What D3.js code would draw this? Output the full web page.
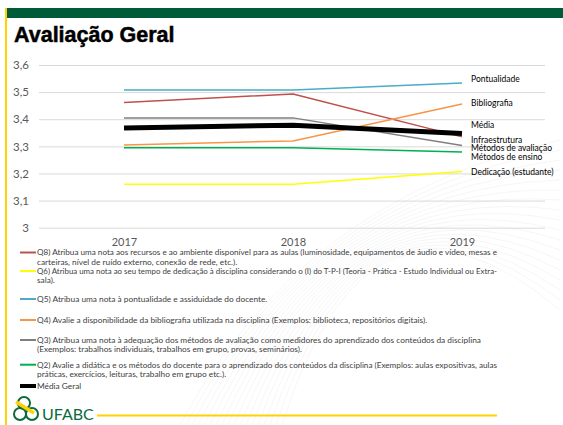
<!DOCTYPE html>
<html><head><meta charset="utf-8">
<script src="https://cdn.jsdelivr.net/npm/d3@7"></script>
<style>body{margin:0;background:#fff}svg{display:block}</style>
</head><body><svg id="c" width="563" height="425"></svg>
<script>
const years = ["2017","2018","2019"];
const yTicks = [3,3.1,3.2,3.3,3.4,3.5,3.6];
const infra = [3.462,3.493,3.335];
const dedic = [3.160,3.160,3.207];
const pontual = [3.508,3.508,3.534];
const biblio = [3.305,3.320,3.456];
const metAval = [3.405,3.405,3.303];
const metEns = [3.295,3.295,3.279];
const media = [3.368,3.378,3.347];
const seriesNames = ["Infraestrutura","Dedicação (estudante)","Pontualidade","Bibliografia","Métodos de avaliação","Métodos de ensino","Média"];
const legendLines = [
 ["Q8) Atribua uma nota aos recursos e ao ambiente disponível para as aulas (luminosidade, equipamentos de áudio e vídeo, mesas e","carteiras, nível de ruído externo, conexão de rede, etc.)."],
 ["Q6) Atribua uma nota ao seu tempo de dedicação à disciplina considerando o (I) do T-P-I (Teoria - Prática - Estudo Individual ou Extra-","sala)."],
 ["Q5) Atribua uma nota à pontualidade e assiduidade do docente."],
 ["Q4) Avalie a disponibilidade da bibliografia utilizada na disciplina (Exemplos: biblioteca, repositórios digitais)."],
 ["Q3) Atribua uma nota à adequação dos métodos de avaliação como medidores do aprendizado dos conteúdos da disciplina","(Exemplos: trabalhos individuais, trabalhos em grupo, provas, seminários)."],
 ["Q2) Avalie a didática e os métodos do docente para o aprendizado dos conteúdos da disciplina (Exemplos: aulas expositivas, aulas","práticas, exercícios, leituras, trabalho em grupo etc.)."],
 ["Média Geral"]
];

const seriesVals = [infra,dedic,pontual,biblio,metAval,metEns,media];
const colors = ["#C0504D","#FFFF00","#4BACC6","#F79646","#7F7F7F","#00B050","#000000"];
const widths = [1.5,1.5,1.5,1.5,1.5,1.5,5];
const labelY = [140,172,79,103,148,157,125];

const svg = d3.select("#c");
const font = "Lato, 'Open Sans', sans-serif";

// faint background swirl
const bg = svg.append("g").attr("fill","none").attr("stroke","#F4F4F4").attr("stroke-width",0.8);
for(let i=0;i<18;i++){
  bg.append("path").attr("d",`M ${180+i*6} 425 Q ${300+i*4} ${200-i*3} ${560} ${140+i*10}`);
}

// frame decorations
svg.append("rect").attr("x",7).attr("y",8).attr("width",556).attr("height",10).attr("fill","#005B3A");
svg.append("rect").attr("x",5).attr("y",8).attr("width",2).attr("height",417).attr("fill","#FFD200");
svg.append("text").attr("x",14).attr("y",42).attr("font-family","Arial, 'Liberation Sans', sans-serif")
  .attr("font-weight","bold").attr("font-size",21.5).attr("fill","#000")
  .attr("stroke","#000").attr("stroke-width",0.5).text("Avaliação Geral");

const x = d3.scalePoint().domain(years).range([124,462]);
const y = d3.scaleLinear().domain([3,3.6]).range([227.7,65]);

const yAxis = d3.axisLeft(y).tickValues(yTicks).tickSize(-(545-39))
  .tickFormat(d=>d3.format(".1f")(d).replace(".",",").replace(/^3,0$/,"3"));
const gy = svg.append("g").attr("transform","translate(39,0)").call(yAxis);
gy.select(".domain").remove();
gy.selectAll(".tick line").attr("stroke","#D9D9D9").attr("stroke-width",1);
gy.selectAll(".tick text").attr("x",-10).attr("fill","#595959").attr("font-size",11.5).attr("font-family",font);

const xAxis = d3.axisBottom(x).tickSize(0);
const gx = svg.append("g").attr("transform","translate(0,235)").call(xAxis);
gx.select(".domain").remove();
gx.selectAll(".tick text").attr("dy","0.71em").attr("fill","#595959").attr("font-size",11).attr("font-family",font);

const line = d3.line().x((d,i)=>x(years[i])).y(d=>y(d));
seriesVals.forEach((vals,k)=>{
  svg.append("path").attr("d",line(vals)).attr("fill","none")
    .attr("stroke",colors[k]).attr("stroke-width",widths[k]).attr("stroke-linejoin","round");
});
seriesNames.forEach((n,k)=>{
  svg.append("text").attr("x",471).attr("y",labelY[k]).attr("dy","0.35em")
    .attr("font-size",8.5).attr("font-family",font).attr("fill","#000").text(n);
});

// legend
const legendRows = [252.5,271,299,320,340,364.7,386];
const lh = 9.4;
const maxW = 460;
legendLines.forEach((ls,k)=>{
  const yy = legendRows[k];
  svg.append("line").attr("x1",20).attr("x2",36).attr("y1",yy).attr("y2",yy)
    .attr("stroke",colors[k]).attr("stroke-width",k===6?4:2);
  ls.forEach((l,i)=>{
    const t = svg.append("text").attr("x",37).attr("y",yy+i*lh).attr("dy","0.35em")
      .attr("font-size",8.3).attr("font-family",font).attr("fill","#404040").text(l);
    if(t.node().getComputedTextLength()>maxW){
      t.attr("textLength",maxW).attr("lengthAdjust","spacingAndGlyphs");
    }
  });
});

// footer
svg.append("line").attr("x1",97).attr("x2",497).attr("y1",415.5).attr("y2",415.5).attr("stroke","#FFD200").attr("stroke-width",2);
const logo = svg.append("g");
logo.append("circle").attr("cx",24).attr("cy",403).attr("r",6).attr("fill","none").attr("stroke","#0A6B3D").attr("stroke-width",2);
logo.append("circle").attr("cx",20).attr("cy",414).attr("r",6).attr("fill","none").attr("stroke","#0A6B3D").attr("stroke-width",2);
logo.append("circle").attr("cx",32).attr("cy",414).attr("r",6).attr("fill","none").attr("stroke","#0A6B3D").attr("stroke-width",2);
logo.append("line").attr("x1",16).attr("y1",402).attr("x2",34).attr("y2",413).attr("stroke","#FFD200").attr("stroke-width",3.5);
svg.append("text").attr("x",42).attr("y",420).attr("font-family",font).attr("font-size",16).attr("fill","#0A6B3D").text("UFABC");
</script>
</body></html>
